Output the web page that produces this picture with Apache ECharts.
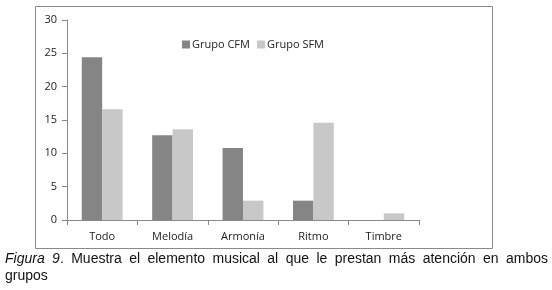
<!DOCTYPE html>
<html>
<head>
<meta charset="utf-8">
<script src="https://cdn.jsdelivr.net/npm/echarts@6/dist/echarts.min.js"></script>
<style>
  html, body { margin: 0; padding: 0; background: #fff; }
  #wrap { position: relative; width: 552px; height: 290px; }
  #chart { position: absolute; left: 0; top: 0; width: 552px; height: 290px; }
  #caption {
    position: absolute; left: 5px; top: 250px; width: 543px;
    font-family: "Liberation Sans", Arial, sans-serif; font-size: 14px;
    line-height: 17px; color: #111; text-align: justify;
  }
</style>
</head>
<body>
<div id="wrap">
  <div id="chart"></div>
  <div id="caption"><i>Figura 9</i>. Muestra el elemento musical al que le prestan más atención en ambos grupos</div>
</div>
<script>
// Elementos musicales y porcentajes por grupo
const categorias = ["Todo", "Melodía", "Armonía", "Ritmo", "Timbre"];
const grupoCFM = [24.4, 12.7, 10.8, 2.9, 0];
const grupoSFM = [16.6, 13.6, 2.9, 14.6, 1.0];
const ticksY = [0, 5, 10, 15, 20, 25, 30];

const chart = echarts.init(document.getElementById("chart"));
const fuente = "'Open Sans', 'DejaVu Sans', sans-serif";

const option = {
  animation: false,
  graphic: [
    {
      type: "rect",
      shape: { x: 35.5, y: 6.5, width: 457, height: 242 },
      style: { fill: "none", stroke: "#8a8a8a", lineWidth: 1 },
      silent: true,
    },
  ],
  legend: {
    data: ["Grupo CFM", "Grupo SFM"],
    left: 177,
    top: 34,
    itemWidth: 8,
    itemHeight: 8,
    itemGap: 7,
    icon: "rect",
    textStyle: { fontFamily: fuente, fontSize: 11, color: "#222", padding: [0, 0, 0, -3] },
  },
  grid: { left: 67, right: 133, top: 20, bottom: 70 },
  xAxis: {
    type: "category",
    data: categorias,
    axisLine: { lineStyle: { color: "#8a8a8a" } },
    axisTick: { show: true, length: 5, lineStyle: { color: "#8a8a8a" } },
    axisLabel: { fontFamily: fuente, fontSize: 11, color: "#222", margin: 11 },
  },
  yAxis: {
    type: "value",
    min: ticksY[0],
    max: ticksY[ticksY.length - 1],
    interval: 5,
    axisLine: { show: true, lineStyle: { color: "#8a8a8a" } },
    axisTick: { show: true, length: 5, lineStyle: { color: "#8a8a8a" } },
    splitLine: { show: false },
    axisLabel: { fontFamily: fuente, fontSize: 11, color: "#222", margin: 10 },
  },
  series: [
    {
      name: "Grupo CFM",
      type: "bar",
      data: grupoCFM,
      barGap: "0%",
      barCategoryGap: "42%",
      itemStyle: { color: "#858585" },
    },
    {
      name: "Grupo SFM",
      type: "bar",
      data: grupoSFM,
      itemStyle: { color: "#c8c8c8" },
    },
  ],
};
chart.setOption(option);
</script>
</body>
</html>
